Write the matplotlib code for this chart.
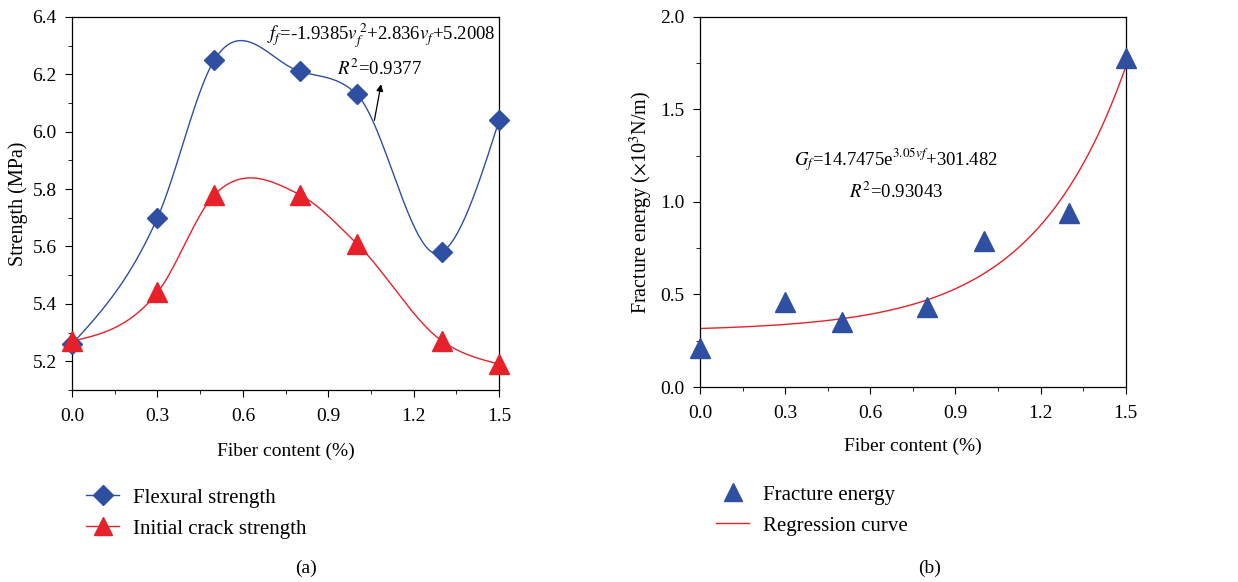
import numpy as np
import matplotlib
matplotlib.use("Agg")
import matplotlib.pyplot as plt
from matplotlib.ticker import MultipleLocator

plt.rcParams["font.family"] = ["Liberation Serif", "DejaVu Serif"]
plt.rcParams["mathtext.fontset"] = "stix"
plt.rcParams["font.size"] = 14

# --- datos ---
contenido_fibra = [0.0, 0.3, 0.5, 0.8, 1.0, 1.3, 1.5]
resist_flexion = [5.26, 5.70, 6.25, 6.21, 6.13, 5.58, 6.04]
resist_fisura = [5.27, 5.44, 5.78, 5.78, 5.61, 5.27, 5.19]
energia_fractura = [0.21, 0.46, 0.35, 0.43, 0.79, 0.94, 1.78]

# coeficientes de la regresión G_f = a*exp(b*v) + c  (N/m)
reg_a, reg_b, reg_c = 14.7475, 3.05, 301.482

AZUL = "#2f4fa2"
ROJO = "#e8202a"


def curva_suave(x, y, n=60):
    """Hermite cúbica que pasa por los puntos; extremos con curvatura nula."""
    x = np.asarray(x, float)
    y = np.asarray(y, float)
    m = np.gradient(y, x)
    d0 = (y[1] - y[0]) / (x[1] - x[0])
    dn = (y[-1] - y[-2]) / (x[-1] - x[-2])
    m[0] = 1.5 * d0 - 0.5 * m[1]
    m[-1] = 1.5 * dn - 0.5 * m[-2]
    xs, ys = [], []
    for i in range(len(x) - 1):
        h = x[i + 1] - x[i]
        t = np.linspace(0, 1, n)
        h00 = 2 * t**3 - 3 * t**2 + 1
        h10 = t**3 - 2 * t**2 + t
        h01 = -2 * t**3 + 3 * t**2
        h11 = t**3 - t**2
        xs.append(x[i] + h * t)
        ys.append(h00 * y[i] + h10 * h * m[i] + h01 * y[i + 1] + h11 * h * m[i + 1])
    return np.concatenate(xs), np.concatenate(ys)


def estilo_ejes(ax):
    ax.tick_params(which="both", direction="out", top=False, right=False)
    ax.tick_params(which="major", length=5, labelsize=14)
    ax.tick_params(axis="x", which="major", pad=8)
    ax.tick_params(axis="y", which="major", pad=6)
    ax.tick_params(which="minor", length=3)
    ax.xaxis.set_major_formatter(lambda v, p: f"{v:.1f}")
    ax.yaxis.set_major_formatter(lambda v, p: f"{v:.1f}")
    for s in ax.spines.values():
        s.set_linewidth(0.9)


fig = plt.figure(figsize=(12.38, 5.82), dpi=100)

# ---------- (a) resistencias ----------
ax1 = fig.add_axes([0.0582, 0.330, 0.345, 0.641])
xf, yf = curva_suave(contenido_fibra, resist_flexion)
xc, yc = curva_suave(contenido_fibra, resist_fisura)
ax1.plot(xf, yf, color=AZUL, lw=1.0)
ax1.plot(xc, yc, color=ROJO, lw=1.0)
ax1.plot(contenido_fibra, resist_flexion, ls="none", marker="D", ms=10,
         color=AZUL, clip_on=False, zorder=5)
ax1.plot(contenido_fibra, resist_fisura, ls="none", marker="^", ms=14,
         color=ROJO, clip_on=False, zorder=6)
ax1.set_xlim(0, 1.5)
ax1.set_ylim(5.1, 6.4)
ax1.xaxis.set_major_locator(MultipleLocator(0.3))
ax1.xaxis.set_minor_locator(MultipleLocator(0.15))
ax1.set_yticks(np.arange(5.2, 6.41, 0.2))
ax1.yaxis.set_minor_locator(MultipleLocator(0.1))
ax1.set_xlabel("Fiber content (%)", fontsize=14, labelpad=13)
ax1.set_ylabel("Strength (MPa)", fontsize=14.5, labelpad=3)
estilo_ejes(ax1)

ax1.text(1.085, 6.335, r"$f_f$=-1.9385$v_f^{\,2}$+2.836$v_f$+5.2008",
         ha="center", va="center", fontsize=13.5)
ax1.text(1.08, 6.22, r"$R^2$=0.9377", ha="center", va="center", fontsize=13.5)
ax1.annotate("", xy=(1.087, 6.175), xytext=(1.06, 6.03),
             arrowprops=dict(arrowstyle="-|>", color="black", lw=0.9,
                             mutation_scale=10))

h1, = ax1.plot([], [], color=AZUL, lw=1.0, marker="D", ms=10)
h2, = ax1.plot([], [], color=ROJO, lw=1.0, marker="^", ms=13)
fig.legend([h1, h2], ["Flexural strength", "Initial crack strength"],
           loc="upper left", bbox_to_anchor=(86 / 1238, 1 - 488 / 582),
           frameon=False, fontsize=15, handlelength=1.6, handletextpad=0.65,
           labelspacing=0.55, borderpad=0, borderaxespad=0)
fig.text(306 / 1238, 1 - 568 / 582, "(a)", ha="center", va="center", fontsize=14)

# ---------- (b) energía de fractura ----------
ax2 = fig.add_axes([0.5654, 0.335, 0.344, 0.636])
xr = np.linspace(0, 1.5, 200)
yr = (reg_a * np.exp(reg_b * xr) + reg_c) / 1000.0
ax2.plot(xr, yr, color=ROJO, lw=1.0)
ax2.plot(contenido_fibra, energia_fractura, ls="none", marker="^", ms=14,
         color=AZUL, clip_on=False, zorder=5)
ax2.set_xlim(0, 1.5)
ax2.set_ylim(0, 2.0)
ax2.xaxis.set_major_locator(MultipleLocator(0.3))
ax2.xaxis.set_minor_locator(MultipleLocator(0.15))
ax2.yaxis.set_major_locator(MultipleLocator(0.5))
ax2.yaxis.set_minor_locator(MultipleLocator(0.25))
ax2.set_xlabel("Fiber content (%)", fontsize=14, labelpad=11)
ax2.set_ylabel(r"Fracture energy ($\times$10$^3$N/m)", fontsize=14.5, labelpad=4)
estilo_ejes(ax2)

ax2.text(0.69, 1.227, r"$G_f$=14.7475e$^{3.05\mathit{vf}}$+301.482",
         ha="center", va="center", fontsize=13.5)
ax2.text(0.69, 1.054, r"$R^2$=0.93043", ha="center", va="center", fontsize=13.5)

h3, = ax2.plot([], [], ls="none", color=AZUL, marker="^", ms=13)
h4, = ax2.plot([], [], color=ROJO, lw=1.0)
fig.legend([h3, h4], ["Fracture energy", "Regression curve"],
           loc="upper left", bbox_to_anchor=(716 / 1238, 1 - 485 / 582),
           frameon=False, fontsize=15, handlelength=1.6, handletextpad=0.65,
           labelspacing=0.55, borderpad=0, borderaxespad=0)
fig.text(930 / 1238, 1 - 568 / 582, "(b)", ha="center", va="center", fontsize=14)

fig.savefig("out.png", dpi=100)
